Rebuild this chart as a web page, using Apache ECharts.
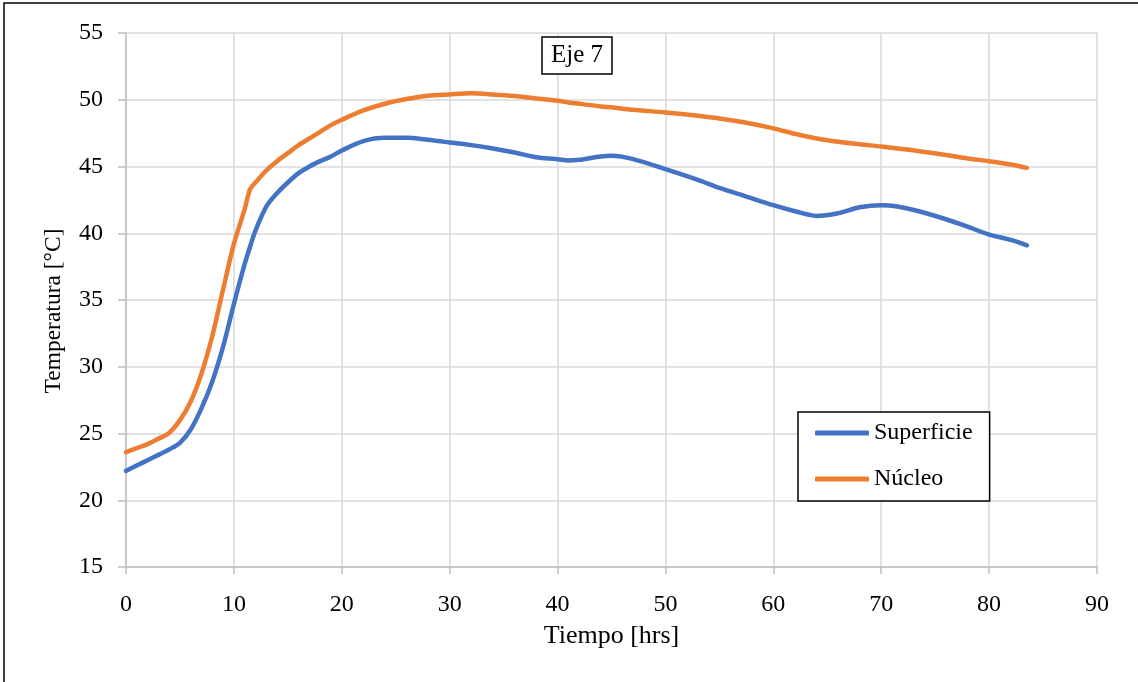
<!DOCTYPE html>
<html>
<head>
<meta charset="utf-8">
<script src="https://cdn.jsdelivr.net/npm/echarts@6/dist/echarts.min.js"></script>
<style>
html,body{margin:0;padding:0;background:#fff;}
#chart{width:1138px;height:682px;}
</style>
</head>
<body>
<div id="chart"></div>
<script>
// Time in hours
const tiempo = [0,1,2,3,4,5,6,7,8,9,10,11,11.5,12,13,14,15,16,17,18,19,20,22,24,26,28,30,32,34,36,38,40,41,42,44,45,47,50,53,55,57.5,60,62,64,66,68,70,71.5,73.5,76,78,80,82,83.5];
// Superficie temperatures [°C]
const superficie = [22.2,22.6,23.0,23.4,23.8,24.3,25.3,26.9,28.9,31.5,34.7,37.7,39.0,40.2,42.0,43.0,43.8,44.5,45.0,45.4,45.75,46.2,46.9,47.15,47.15,47.0,46.8,46.6,46.35,46.05,45.7,45.55,45.45,45.5,45.75,45.8,45.55,44.8,44.0,43.4,42.75,42.1,41.65,41.3,41.5,41.95,42.1,42.0,41.65,41.05,40.5,39.9,39.5,39.1];
// Núcleo temperatures [°C]
const nucleo = [23.6,23.9,24.2,24.6,25.05,26.0,27.4,29.5,32.3,35.8,39.2,41.8,43.3,43.8,44.7,45.4,46.0,46.6,47.1,47.6,48.1,48.5,49.2,49.7,50.05,50.3,50.4,50.48,50.4,50.28,50.1,49.93,49.8,49.7,49.5,49.43,49.25,49.05,48.8,48.6,48.28,47.86,47.45,47.1,46.85,46.66,46.5,46.35,46.15,45.86,45.6,45.4,45.15,44.9];
const seriesNames = ['Superficie','Núcleo'];
const titleText = 'Eje 7';
const xName = 'Tiempo [hrs]';
const yName = 'Temperatura [°C]';

const FONT = '"Liberation Serif", "Times New Roman", serif';
const pair = (xs, ys) => xs.map((x, i) => [x, ys[i]]);

const chart = echarts.init(document.getElementById('chart'), null, {renderer: 'canvas'});
chart.setOption({
  backgroundColor: '#ffffff',
  animation: false,
  textStyle: {fontFamily: FONT, color: '#000'},
  title: {
    text: titleText,
    left: 542, top: 37,
    padding: [6, 9, 6, 9],
    borderColor: '#000', borderWidth: 1.5,
    backgroundColor: '#fff',
    textStyle: {fontFamily: FONT, fontSize: 25, fontWeight: 'normal', color: '#000', lineHeight: 25}
  },
  legend: {
    orient: 'vertical',
    left: 798, top: 412,
    padding: [9, 17, 10, 17],
    itemGap: 22,
    itemWidth: 54, itemHeight: 5,
    icon: 'roundRect',
    borderColor: '#000', borderWidth: 1.5,
    backgroundColor: '#fff',
    textStyle: {fontFamily: FONT, fontSize: 24, color: '#000', lineHeight: 24},
    data: seriesNames
  },
  grid: {left: 126, right: 41, top: 33, bottom: 115, containLabel: false},
  xAxis: {
    type: 'value', min: 0, max: 90, interval: 10,
    name: xName, nameLocation: 'middle', nameGap: 56,
    nameTextStyle: {fontFamily: FONT, fontSize: 26, color: '#000'},
    axisLine: {show: true, lineStyle: {color: '#bfbfbf', width: 1.5}},
    axisTick: {show: true, length: 7, lineStyle: {color: '#bfbfbf', width: 1.5}},
    axisLabel: {fontFamily: FONT, fontSize: 24, color: '#000', margin: 26},
    splitLine: {show: true, lineStyle: {color: '#d9d9d9', width: 1.5}}
  },
  yAxis: {
    type: 'value', min: 15, max: 55, interval: 5,
    name: yName, nameLocation: 'middle', nameGap: 60,
    nameTextStyle: {fontFamily: FONT, fontSize: 23.5, color: '#000', padding: [0, 22, 0, 0]},
    axisLine: {show: true, lineStyle: {color: '#bfbfbf', width: 1.5}},
    axisTick: {show: true, length: 8, lineStyle: {color: '#bfbfbf', width: 1.5}},
    axisLabel: {fontFamily: FONT, fontSize: 24, color: '#000', margin: 23},
    splitLine: {show: true, lineStyle: {color: '#d9d9d9', width: 1.5}}
  },
  graphic: [{
    type: 'rect', silent: true, z: -10,
    shape: {x: 4, y: 3, width: 1140, height: 700},
    style: {fill: 'none', stroke: '#000', lineWidth: 1.5}
  }],
  series: [
    {
      name: seriesNames[0], type: 'line', data: pair(tiempo, superficie),
      symbol: 'none', smooth: 0.3,
      lineStyle: {color: '#4472C4', width: 4.5, cap: 'round', join: 'round'},
      itemStyle: {color: '#4472C4'}
    },
    {
      name: seriesNames[1], type: 'line', data: pair(tiempo, nucleo),
      symbol: 'none', smooth: 0.3,
      lineStyle: {color: '#ED7D31', width: 4.5, cap: 'round', join: 'round'},
      itemStyle: {color: '#ED7D31'}
    }
  ]
});
</script>
</body>
</html>
